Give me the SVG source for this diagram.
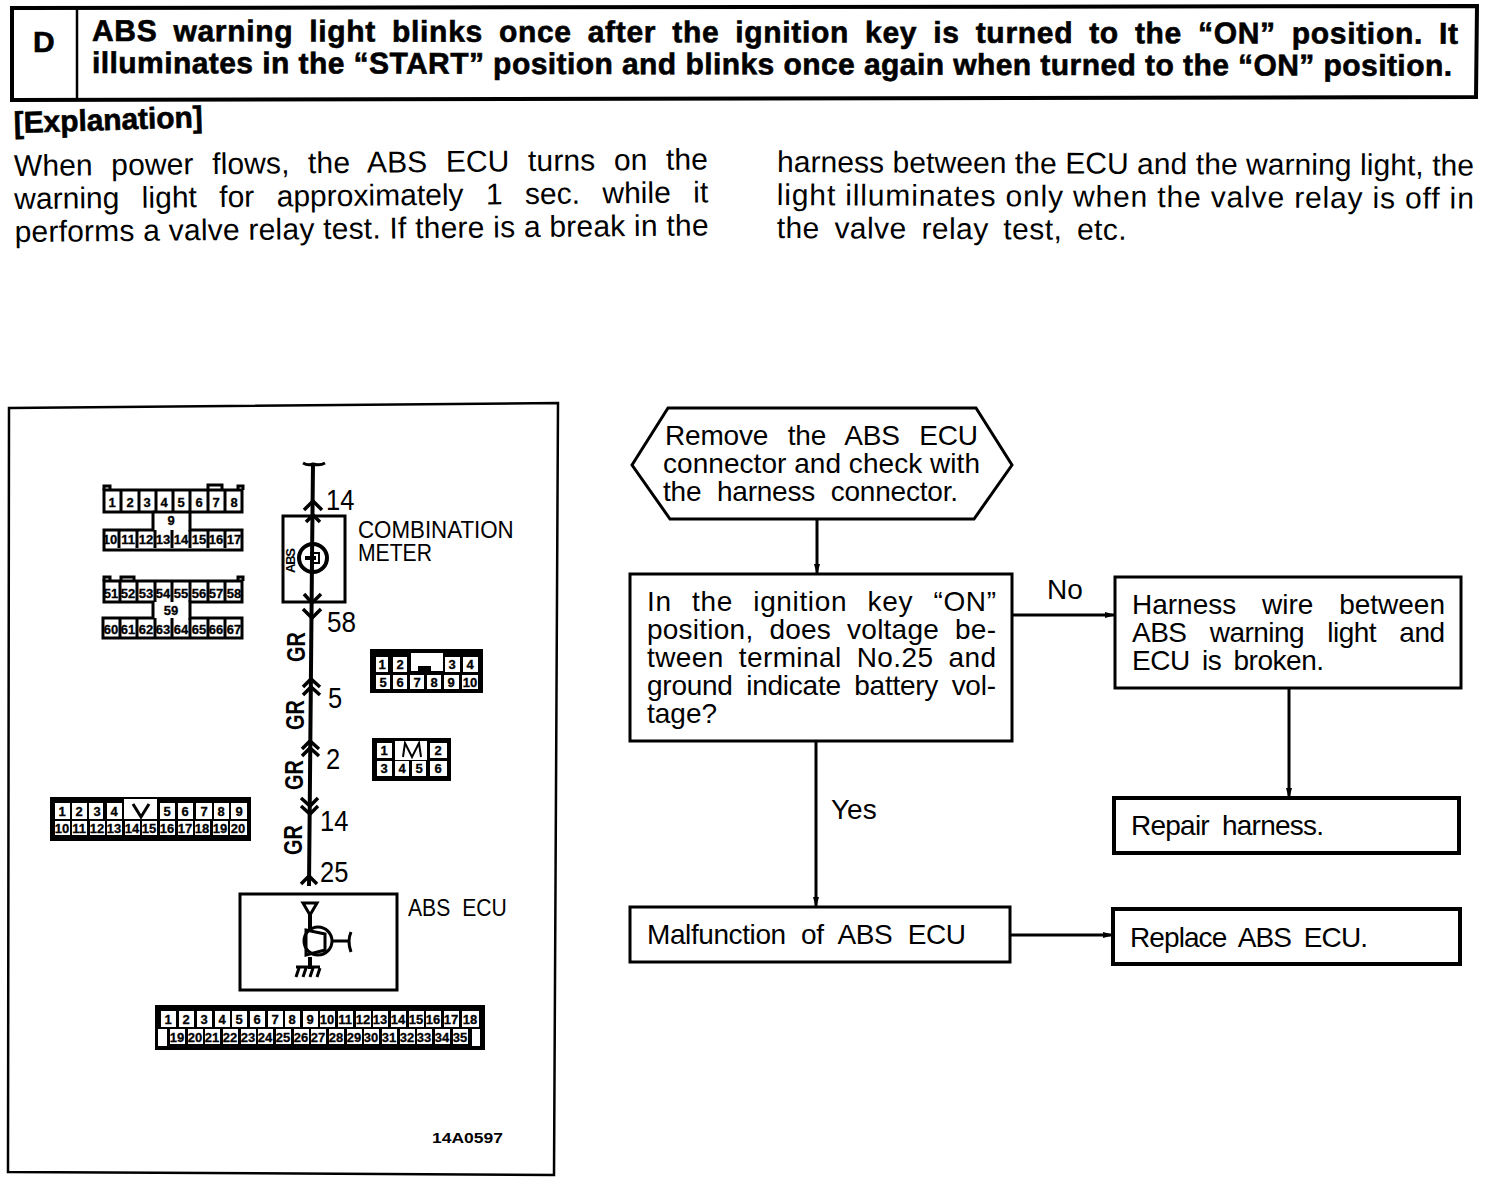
<svg xmlns="http://www.w3.org/2000/svg" width="1504" height="1178" viewBox="0 0 1504 1178">
<style>
text{font-family:"Liberation Sans",Arial,sans-serif;fill:#000}
.b{font-size:30px;font-weight:bold;stroke:#000;stroke-width:.6}
.p{font-size:30px}
.f{font-size:28px}
.l{font-size:30px}
.g{font-size:25px;font-weight:bold}
.n{font-size:13px;font-weight:bold;text-anchor:middle;stroke:#000;stroke-width:.3}
.box{fill:#fff;stroke:#000;stroke-width:3}
.thick{fill:#fff;stroke:#000;stroke-width:4}
.w{fill:none;stroke:#000;stroke-width:4}
.t{fill:none;stroke:#000;stroke-width:3}
.h{fill:none;stroke:#000;stroke-width:3.5}
.c{fill:#fff}
.k{fill:#000}
.o{fill:#fff;stroke:#000;stroke-width:3}
</style>
<defs><marker id="a" markerWidth="11" markerHeight="8" refX="10" refY="4" orient="auto" markerUnits="userSpaceOnUse"><path d="M0 1L11 4L0 7z" fill="#000"/></marker></defs>

<g id="header">
<path d="M12 8L1477 6L1476 97L12 100z" fill="#fff" stroke="#000" stroke-width="4"/>
<path d="M77 8V100" stroke="#000" stroke-width="2.5"/>
<text class="b" x="33" y="52">D</text>
<text class="b" transform="rotate(.12 92 41)" x="92" y="41" textLength="1366" word-spacing="7">ABS warning light blinks once after the ignition key is turned to the “ON” position. It</text>
<text class="b" transform="rotate(.12 92 73)" x="92" y="73" textLength="1360">illuminates in the “START” position and blinks once again when turned to the “ON” position.</text>
</g>

<g id="explanation">
<text class="b" transform="rotate(-1.8 14 133)" x="14" y="133" textLength="189">[Explanation]</text>
<g transform="rotate(-.55 14 176)">
<text class="p" x="14" y="176" textLength="694" word-spacing="10">When power flows, the ABS ECU turns on the</text>
<text class="p" x="14" y="209" textLength="694" word-spacing="14">warning light for approximately 1 sec. while it</text>
<text class="p" x="14" y="242" textLength="694">performs a valve relay test. If there is a break in the</text>
</g>
<g transform="rotate(.3 777 172)">
<text class="p" x="777" y="172" textLength="697">harness between the ECU and the warning light, the</text>
<text class="p" x="777" y="205" textLength="697">light illuminates only when the valve relay is off in</text>
<text class="p" x="777" y="238" textLength="350" word-spacing="6">the valve relay test, etc.</text>
</g>
</g>

<g id="panel"><path d="M9 408L558 403L554 1175L8 1172z" fill="#fff" stroke="#000" stroke-width="2.5"/></g>

<g id="connector-a">
<path class="o" d="M104 490V512H153V530H104V550H242V530H190V512H242V490z"/>
<path d="M104 490V486H110V490M238 490V486H243V490M208 490V485H222V490" class="t"/>
<path d="M121 490V512M139 490V512M156 490V512M173 490V512M190 490V512M208 490V512M225 490V512M119 530V548M137 530V548M155 530V548M172 530V548M190 530V548M208 530V548M225 530V548M153 512H190" class="t"/>
<text class="n" x="112" y="507">1</text><text class="n" x="130" y="507">2</text><text class="n" x="147" y="507">3</text><text class="n" x="164" y="507">4</text><text class="n" x="181" y="507">5</text><text class="n" x="199" y="507">6</text><text class="n" x="216" y="507">7</text><text class="n" x="234" y="507">8</text>
<text class="n" x="171" y="525">9</text>
<text class="n" x="110" y="544">10</text><text class="n" x="128" y="544">11</text><text class="n" x="146" y="544">12</text><text class="n" x="163" y="544">13</text><text class="n" x="181" y="544">14</text><text class="n" x="199" y="544">15</text><text class="n" x="216" y="544">16</text><text class="n" x="234" y="544">17</text>
</g>

<g id="connector-b">
<path class="o" d="M104 581V602H153V618H103V638H242V618H190V602H242V581z"/>
<path d="M104 581V577H110V581M238 581V577H243V581M121 581V577H134V581" class="t"/>
<path d="M120 581V602M137 581V602M155 581V602M172 581V602M190 581V602M208 581V602M225 581V602M120 618V638M137 618V638M155 618V638M172 618V638M190 618V638M208 618V638M225 618V638" class="t"/>
<text class="n" x="111" y="598">51</text><text class="n" x="128" y="598">52</text><text class="n" x="146" y="598">53</text><text class="n" x="163" y="598">54</text><text class="n" x="181" y="598">55</text><text class="n" x="199" y="598">56</text><text class="n" x="216" y="598">57</text><text class="n" x="234" y="598">58</text>
<text class="n" x="171" y="615">59</text>
<text class="n" x="111" y="634">60</text><text class="n" x="128" y="634">61</text><text class="n" x="146" y="634">62</text><text class="n" x="163" y="634">63</text><text class="n" x="181" y="634">64</text><text class="n" x="199" y="634">65</text><text class="n" x="216" y="634">66</text><text class="n" x="234" y="634">67</text>
</g>

<g id="connector-c">
<rect class="k" x="370" y="649" width="113" height="44"/>
<rect class="c" x="376" y="657" width="12" height="15"/><rect class="c" x="393" y="657" width="14" height="15"/>
<path class="c" d="M411 653H443V671H431V666H418V671H411z"/>
<rect class="c" x="445" y="657" width="15" height="15"/><rect class="c" x="463" y="657" width="15" height="15"/>
<rect class="c" x="376" y="675" width="14" height="14"/><rect class="c" x="393" y="675" width="14" height="14"/><rect class="c" x="410" y="675" width="14" height="14"/><rect class="c" x="427" y="675" width="14" height="14"/><rect class="c" x="444" y="675" width="15" height="14"/><rect class="c" x="462" y="675" width="16" height="14"/>
<text class="n" x="382" y="669">1</text><text class="n" x="400" y="669">2</text><text class="n" x="452" y="669">3</text><text class="n" x="470" y="669">4</text>
<text class="n" x="383" y="687">5</text><text class="n" x="400" y="687">6</text><text class="n" x="417" y="687">7</text><text class="n" x="434" y="687">8</text><text class="n" x="451" y="687">9</text><text class="n" x="470" y="687">10</text>
</g>

<g id="connector-d">
<rect class="k" x="372" y="738" width="79" height="43"/>
<rect class="c" x="377" y="743" width="15" height="15"/><rect class="c" x="395" y="741" width="32" height="19"/><rect class="c" x="430" y="743" width="17" height="15"/>
<path d="M403 757L405 743L412 757L419 743L421 757" fill="none" stroke="#000" stroke-width="2"/>
<rect class="c" x="377" y="761" width="15" height="15"/><rect class="c" x="395" y="761" width="14" height="15"/><rect class="c" x="412" y="761" width="14" height="15"/><rect class="c" x="430" y="761" width="17" height="15"/>
<text class="n" x="384" y="755">1</text><text class="n" x="438" y="755">2</text>
<text class="n" x="384" y="773">3</text><text class="n" x="402" y="773">4</text><text class="n" x="419" y="773">5</text><text class="n" x="438" y="773">6</text>
</g>

<g id="connector-e">
<rect class="k" x="50" y="797" width="201" height="44"/>
<rect class="c" x="55" y="803" width="15" height="16"/><rect class="c" x="72" y="803" width="15" height="16"/><rect class="c" x="89" y="803" width="14" height="16"/><rect class="c" x="107" y="803" width="15" height="16"/><rect class="c" x="124" y="799" width="33" height="20"/><rect class="c" x="160" y="803" width="15" height="16"/><rect class="c" x="178" y="803" width="15" height="16"/><rect class="c" x="196" y="803" width="16" height="16"/><rect class="c" x="214" y="803" width="15" height="16"/><rect class="c" x="231" y="803" width="16" height="16"/>
<path d="M133 804L141 817L149 804" class="t"/>
<rect class="c" x="55" y="821" width="15" height="14"/><rect class="c" x="72" y="821" width="15" height="14"/><rect class="c" x="90" y="821" width="15" height="14"/><rect class="c" x="107" y="821" width="15" height="14"/><rect class="c" x="125" y="821" width="15" height="14"/><rect class="c" x="142" y="821" width="15" height="14"/><rect class="c" x="160" y="821" width="15" height="14"/><rect class="c" x="178" y="821" width="15" height="14"/><rect class="c" x="195" y="821" width="15" height="14"/><rect class="c" x="213" y="821" width="15" height="14"/><rect class="c" x="230" y="821" width="17" height="14"/>
<text class="n" x="62" y="816">1</text><text class="n" x="79" y="816">2</text><text class="n" x="97" y="816">3</text><text class="n" x="114" y="816">4</text><text class="n" x="167" y="816">5</text><text class="n" x="185" y="816">6</text><text class="n" x="204" y="816">7</text><text class="n" x="221" y="816">8</text><text class="n" x="239" y="816">9</text>
<text class="n" x="62" y="833">10</text><text class="n" x="79" y="833">11</text><text class="n" x="97" y="833">12</text><text class="n" x="114" y="833">13</text><text class="n" x="132" y="833">14</text><text class="n" x="149" y="833">15</text><text class="n" x="167" y="833">16</text><text class="n" x="185" y="833">17</text><text class="n" x="202" y="833">18</text><text class="n" x="220" y="833">19</text><text class="n" x="238" y="833">20</text>
</g>

<g id="connector-f">
<rect class="k" x="155" y="1005" width="330" height="45"/>
<g class="c"><rect x="161" y="1011" width="15" height="16"/><rect x="179" y="1011" width="15" height="16"/><rect x="197" y="1011" width="15" height="16"/><rect x="215" y="1011" width="15" height="16"/><rect x="232" y="1011" width="15" height="16"/><rect x="250" y="1011" width="15" height="16"/><rect x="268" y="1011" width="15" height="16"/><rect x="285" y="1011" width="15" height="16"/><rect x="303" y="1011" width="15" height="16"/><rect x="320" y="1011" width="15" height="16"/><rect x="338" y="1011" width="15" height="16"/><rect x="356" y="1011" width="15" height="16"/><rect x="373" y="1011" width="15" height="16"/><rect x="391" y="1011" width="15" height="16"/><rect x="409" y="1011" width="15" height="16"/><rect x="426" y="1011" width="15" height="16"/><rect x="444" y="1011" width="15" height="16"/><rect x="462" y="1011" width="17" height="16"/>
<rect x="158" y="1029" width="9" height="17"/><rect x="170" y="1029" width="15" height="15"/><rect x="188" y="1029" width="15" height="15"/><rect x="205" y="1029" width="15" height="15"/><rect x="223" y="1029" width="15" height="15"/><rect x="241" y="1029" width="15" height="15"/><rect x="258" y="1029" width="15" height="15"/><rect x="276" y="1029" width="15" height="15"/><rect x="294" y="1029" width="15" height="15"/><rect x="311" y="1029" width="15" height="15"/><rect x="329" y="1029" width="15" height="15"/><rect x="347" y="1029" width="15" height="15"/><rect x="364" y="1029" width="15" height="15"/><rect x="382" y="1029" width="15" height="15"/><rect x="400" y="1029" width="15" height="15"/><rect x="417" y="1029" width="15" height="15"/><rect x="435" y="1029" width="15" height="15"/><rect x="453" y="1029" width="15" height="15"/><rect x="472" y="1029" width="8" height="17"/></g>
<text class="n" x="168" y="1024">1</text><text class="n" x="186" y="1024">2</text><text class="n" x="204" y="1024">3</text><text class="n" x="222" y="1024">4</text><text class="n" x="239" y="1024">5</text><text class="n" x="257" y="1024">6</text><text class="n" x="275" y="1024">7</text><text class="n" x="292" y="1024">8</text><text class="n" x="310" y="1024">9</text><text class="n" x="327" y="1024">10</text><text class="n" x="345" y="1024">11</text><text class="n" x="363" y="1024">12</text><text class="n" x="380" y="1024">13</text><text class="n" x="398" y="1024">14</text><text class="n" x="416" y="1024">15</text><text class="n" x="433" y="1024">16</text><text class="n" x="451" y="1024">17</text><text class="n" x="470" y="1024">18</text>
<text class="n" x="177" y="1042">19</text><text class="n" x="195" y="1042">20</text><text class="n" x="212" y="1042">21</text><text class="n" x="230" y="1042">22</text><text class="n" x="248" y="1042">23</text><text class="n" x="265" y="1042">24</text><text class="n" x="283" y="1042">25</text><text class="n" x="301" y="1042">26</text><text class="n" x="318" y="1042">27</text><text class="n" x="336" y="1042">28</text><text class="n" x="354" y="1042">29</text><text class="n" x="371" y="1042">30</text><text class="n" x="389" y="1042">31</text><text class="n" x="407" y="1042">32</text><text class="n" x="424" y="1042">33</text><text class="n" x="442" y="1042">34</text><text class="n" x="460" y="1042">35</text>
</g>

<g id="combination-meter">
<rect x="283" y="516" width="62" height="86" class="box"/>
<circle cx="313" cy="558" r="14" fill="#fff" stroke="#000" stroke-width="4"/>
<path d="M305 558H316" stroke="#000" stroke-width="4" fill="none"/><path d="M310 553H319V563H310" stroke="#000" stroke-width="2" fill="none"/>
<text transform="translate(295 573) rotate(-90)" font-size="13" font-weight="bold" textLength="25">ABS</text>
<text transform="translate(358 538) scale(.93 1)" font-size="24">COMBINATION</text>
<text transform="translate(358 561) scale(.88 1)" font-size="24">METER</text>
</g>
<g id="abs-ecu">
<rect x="240" y="894" width="157" height="96" class="box"/>
<path d="M303 903H317L310 915z" class="t"/>
<path d="M310 915V930M310 957V969" class="w"/>
<circle cx="318" cy="941" r="14" fill="#fff" stroke="#000" stroke-width="3"/>
<path d="M306 930L325 934V950L306 955z" fill="none" stroke="#000" stroke-width="3"/>
<path d="M332 941H350M351 932Q347 941 351 952" class="t"/>
<path d="M296 967H320M299 968L296 977M306 968L303 977M313 968L310 977M320 968L317 977" class="t"/>
<text transform="translate(408 916) scale(.88 1)" font-size="24" word-spacing="7">ABS ECU</text>
</g>
<g id="connectors">
<path class="w" d="M313 464L312 560L309 886"/>
<path d="M303 463Q308 466 313 464Q320 466 325 463" class="t"/>
<path class="h" d="M304 510L313 501L322 510M306 522L313 515L320 522M304 594L312 603L321 594M303 609L312 618L321 609M303 687L311 679L320 687M303 695L311 687L320 695M302 749L310 741L319 749M302 756L310 748L319 756M301 798L310 806L318 798M301 806L310 814L318 806M301 884L309 876L317 884"/>
<path class="t" marker-end="url(#a)" d="M817 519V574"/>
<path class="t" marker-end="url(#a)" d="M1012 615H1115"/>
<path class="t" marker-end="url(#a)" d="M1289 688V798"/>
<path class="t" marker-end="url(#a)" d="M816 741V907"/>
<path class="t" marker-end="url(#a)" d="M1010 935H1113"/>
</g>
<g id="wire-labels">
<text class="l" transform="translate(326 510) scale(.85 1)">14</text><text class="l" transform="translate(327 632) scale(.87 1)">58</text><text class="l" transform="translate(328 708) scale(.85 1)">5</text><text class="l" transform="translate(326 769) scale(.85 1)">2</text><text class="l" transform="translate(320 831) scale(.85 1)">14</text><text class="l" transform="translate(320 882) scale(.85 1)">25</text>
<text class="g" transform="translate(305 662) rotate(-90) scale(.8 1)">GR</text><text class="g" transform="translate(304 730) rotate(-90) scale(.8 1)">GR</text><text class="g" transform="translate(303 790) rotate(-90) scale(.8 1)">GR</text><text class="g" transform="translate(302 855) rotate(-90) scale(.8 1)">GR</text>
<text transform="translate(432 1143) scale(1.25 1)" font-size="14" font-weight="bold">14A0597</text>
</g>

<g id="step-remove">
<path class="box" d="M632 465L668 408H976L1012 465L974 519H670z"/>
<text class="f" x="665" y="445" textLength="313" word-spacing="12">Remove the ABS ECU</text>
<text class="f" x="663" y="473" textLength="317">connector and check with</text>
<text class="f" x="663" y="501" textLength="295" word-spacing="8">the harness connector.</text>
</g>
<g id="step-voltage">
<rect class="box" x="630" y="574" width="382" height="167"/>
<text class="f" x="647" y="611" textLength="349" word-spacing="12">In the ignition key “ON”</text>
<text class="f" x="647" y="639" textLength="349" word-spacing="8">position, does voltage be-</text>
<text class="f" x="647" y="667" textLength="349" word-spacing="7">tween terminal No.25 and</text>
<text class="f" x="647" y="695" textLength="349" word-spacing="6">ground indicate battery vol-</text>
<text class="f" x="647" y="723">tage?</text>
</g>
<g id="step-harness">
<rect class="box" x="1115" y="577" width="346" height="111"/>
<text class="f" x="1132" y="614" textLength="313" word-spacing="18">Harness wire between</text>
<text class="f" x="1132" y="642" textLength="313" word-spacing="16">ABS warning light and</text>
<text class="f" x="1132" y="670" textLength="192" word-spacing="5">ECU is broken.</text>
</g>
<g id="step-repair">
<rect class="thick" x="1114" y="798" width="345" height="55"/>
<text class="f" x="1131" y="835" textLength="193" word-spacing="6">Repair harness.</text>
</g>
<g id="step-malfunction">
<rect class="box" x="630" y="907" width="380" height="55"/>
<text class="f" x="647" y="944" textLength="319" word-spacing="8">Malfunction of ABS ECU</text>
</g>
<g id="step-replace">
<rect class="thick" x="1113" y="909" width="347" height="55"/>
<text class="f" x="1130" y="947" textLength="238" word-spacing="6">Replace ABS ECU.</text>
</g>
<g id="edge-labels">
<text class="f" x="1047" y="599">No</text>
<text class="f" x="831" y="819">Yes</text>
</g>
</svg>
